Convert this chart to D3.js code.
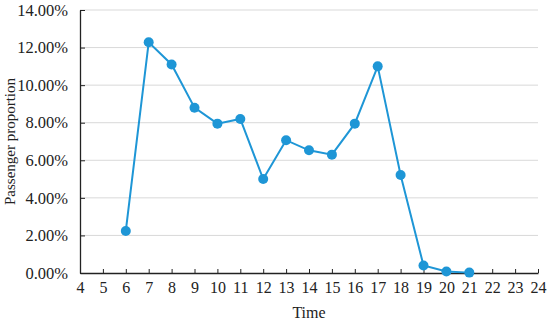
<!DOCTYPE html>
<html>
<head>
<meta charset="utf-8">
<script src="https://cdn.jsdelivr.net/npm/d3@7"></script>
<style>
  body { margin: 0; background: #fff; }
  text { font-family: "Liberation Serif", "Times New Roman", serif; fill: #222; }
</style>
</head>
<body>
<svg id="chart" width="550" height="323"></svg>
<script>
// data
var hours = [6, 7, 8, 9, 10, 11, 12, 13, 14, 15, 16, 17, 18, 19, 20, 21];
var share = [2.24, 12.28, 11.1, 8.8, 7.95, 8.2, 5.0, 7.07, 6.53, 6.3, 7.95, 11.0, 5.22, 0.4, 0.08, 0.02];
var xTicks = d3.range(4, 25);
var yTicks = [0, 2, 4, 6, 8, 10, 12, 14];

var svg = d3.select("#chart");
var margin = { left: 80, right: 12, top: 10, bottom: 50 };
var width = 550, height = 323;

var x = d3.scaleLinear().domain([4, 24]).range([margin.left, width - margin.right]);
var y = d3.scaleLinear().domain([0, 14]).range([height - margin.bottom, margin.top]);

var lineCol = "#1e96d6";

// gridlines
svg.append("g")
  .selectAll("line")
  .data(yTicks.filter(function (d) { return d > 0; }))
  .join("line")
  .attr("x1", x(4)).attr("x2", x(24))
  .attr("y1", function (d) { return y(d); })
  .attr("y2", function (d) { return y(d); })
  .attr("stroke", "#d9d9d9")
  .attr("stroke-width", 1);

// y axis
var yAxis = svg.append("g")
  .attr("transform", "translate(" + x(4) + ",0)")
  .call(d3.axisLeft(y).tickValues(yTicks)
    .tickFormat(function (d) { return d.toFixed(2) + "%"; })
    .tickSizeInner(-5).tickSizeOuter(0).tickPadding(12));
yAxis.attr("font-size", null).attr("font-family", null);
yAxis.select(".domain").attr("stroke", "#222").attr("stroke-width", 1.3);
yAxis.selectAll(".tick line").attr("stroke", "#222");
yAxis.selectAll("text").style("font-size", "16.5px").attr("fill", "#222");

// x axis
var xAxis = svg.append("g")
  .attr("transform", "translate(0," + y(0) + ")")
  .call(d3.axisBottom(x).tickValues(xTicks)
    .tickFormat(d3.format("d"))
    .tickSizeInner(-4).tickSizeOuter(0).tickPadding(9));
xAxis.attr("font-size", null).attr("font-family", null);
xAxis.select(".domain").attr("stroke", "#222").attr("stroke-width", 1.3);
xAxis.selectAll(".tick line").attr("stroke", "#222");
xAxis.selectAll("text").style("font-size", "16px").attr("fill", "#222");

// axis titles
svg.append("text")
  .attr("x", (x(4) + x(24)) / 2)
  .attr("y", 318)
  .attr("text-anchor", "middle")
  .style("font-size", "16px")
  .text("Time");

svg.append("text")
  .attr("transform", "translate(15," + (y(7)) + ") rotate(-90)")
  .attr("text-anchor", "middle")
  .style("font-size", "15px")
  .text("Passenger proportion");

// series
var pts = hours.map(function (h, i) { return [h, share[i]]; });

svg.append("path")
  .datum(pts)
  .attr("fill", "none")
  .attr("stroke", lineCol)
  .attr("stroke-width", 2)
  .attr("d", d3.line()
    .x(function (d) { return x(d[0]); })
    .y(function (d) { return y(d[1]); }));

svg.append("g")
  .selectAll("circle")
  .data(pts)
  .join("circle")
  .attr("cx", function (d) { return x(d[0]); })
  .attr("cy", function (d) { return y(d[1]); })
  .attr("r", 5)
  .attr("fill", lineCol);
</script>
</body>
</html>
